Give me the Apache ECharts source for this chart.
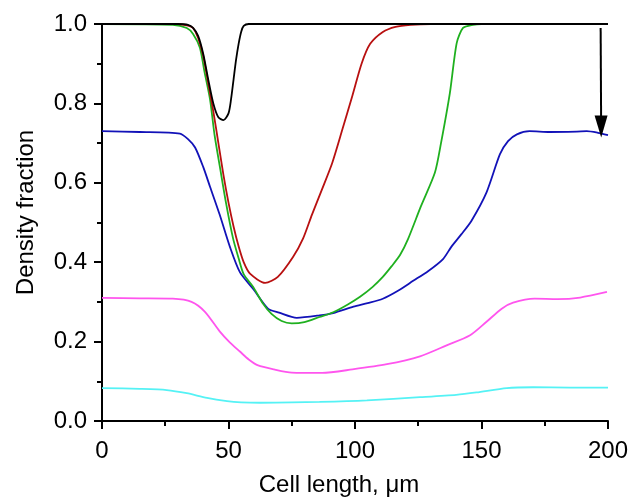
<!DOCTYPE html>
<html>
<head>
<meta charset="utf-8">
<script src="https://cdn.jsdelivr.net/npm/echarts@6/dist/echarts.min.js"></script>
<style>html,body{margin:0;padding:0;background:#fff}#c{width:631px;height:502px}</style>
</head>
<body>
<div id="c"></div>
<script>
const xTicks = [0, 50, 100, 150, 200];
const yTicks = [0.0, 0.2, 0.4, 0.6, 0.8, 1.0];

const blackData = [[0,1.0],[30,1.0],[34,0.998],[36,0.99],[38,0.97],[40,0.925],[42,0.86],[44,0.80],[46,0.765],[48,0.758],[50,0.775],[51,0.81],[52,0.86],[53,0.91],[54,0.95],[55,0.98],[56,0.995],[58,1.0],[200,1.0]];
const redData = [[0,1.0],[30,1.0],[34,0.996],[36,0.99],[38,0.965],[40,0.92],[42,0.85],[44,0.78],[46,0.70],[48,0.62],[50,0.55],[52,0.49],[54,0.44],[56,0.40],[58.5,0.371],[64.5,0.348],[69.5,0.363],[75.5,0.413],[79.5,0.46],[83,0.52],[87,0.584],[91,0.65],[95,0.734],[99,0.82],[102.6,0.90],[106,0.95],[111,0.98],[116,0.993],[122,0.998],[130,1.0],[200,1.0]];
const greenData = [[0,1.0],[28,0.998],[33.5,0.99],[36,0.975],[38.7,0.94],[40.5,0.88],[42.7,0.81],[44.5,0.72],[46.6,0.64],[49,0.55],[51.8,0.46],[54,0.41],[56,0.37],[59.7,0.338],[63.6,0.296],[67,0.27],[71,0.252],[75,0.246],[80,0.249],[86,0.262],[91.4,0.274],[97,0.293],[102,0.313],[107,0.338],[111,0.363],[114.5,0.39],[117.8,0.418],[121,0.459],[126,0.54],[131.6,0.626],[134,0.70],[137.5,0.826],[140.2,0.952],[142.7,0.99],[146.6,0.998],[150,1.0],[200,1.0]];
const blueData = [[0,0.73],[15,0.728],[30.8,0.724],[34,0.71],[36.8,0.689],[40,0.64],[42.7,0.59],[46.5,0.52],[50.6,0.438],[54.5,0.375],[59.7,0.333],[65.6,0.283],[70,0.273],[77,0.26],[86,0.266],[91.4,0.272],[99.4,0.288],[105,0.297],[111,0.308],[117,0.328],[123,0.353],[129,0.378],[134.8,0.408],[138,0.438],[142,0.47],[146,0.504],[152,0.576],[157.3,0.672],[160.5,0.705],[164,0.722],[169,0.73],[177,0.728],[187.7,0.729],[191.6,0.730],[196,0.726],[200,0.72]];
const pinkData = [[0,0.31],[15,0.309],[28,0.308],[35.4,0.30],[40.7,0.275],[46.6,0.225],[50.5,0.198],[54.5,0.175],[58,0.155],[61.7,0.14],[68,0.13],[75,0.122],[87,0.121],[99,0.13],[112.6,0.143],[125.7,0.163],[136,0.19],[145.5,0.216],[152,0.25],[158,0.283],[162.5,0.298],[171,0.308],[180,0.307],[189,0.311],[199.6,0.325]];
const cyanData = [[0,0.083],[15,0.081],[25.6,0.078],[33.5,0.07],[41.5,0.058],[49.4,0.05],[55,0.047],[62.5,0.046],[75,0.047],[86,0.048],[104.7,0.052],[125.7,0.06],[140,0.066],[148,0.072],[160,0.083],[170.4,0.085],[185,0.084],[200,0.084]];
const arrowStart = [197.1, 0.99];
const arrowEnd = [197.3, 0.742];

const seriesDefs = [
  {name: 'cyan', data: cyanData, color: '#55f2f5'},
  {name: 'pink', data: pinkData, color: '#ff55ee'},
  {name: 'blue', data: blueData, color: '#1212b8'},
  {name: 'green', data: greenData, color: '#1fb01f'},
  {name: 'red', data: redData, color: '#b81010'},
  {name: 'black', data: blackData, color: '#000000'}
];

const font = '"Liberation Sans", Arial, sans-serif';
const chart = echarts.init(document.getElementById('c'), null, {renderer: 'canvas'});
const series = seriesDefs.map(s => ({
  type: 'line', name: s.name, data: s.data, showSymbol: false, smooth: 0.25,
  lineStyle: {color: s.color, width: 1.8}, itemStyle: {color: s.color}, z: 3, animation: false
}));
series.push({
  type: 'line', data: [], silent: true, animation: false,
  markLine: {
    silent: true, animation: false,
    symbol: ['none', 'triangle'], symbolSize: [13, 22],
    lineStyle: {color: '#000', width: 2, type: 'solid'},
    label: {show: false},
    data: [[{coord: arrowStart}, {coord: arrowEnd}]]
  }
});

chart.setOption({
  animation: false,
  backgroundColor: '#fff',
  grid: {left: 102, right: 23, top: 24, bottom: 79, containLabel: false},
  xAxis: {
    type: 'value', min: 0, max: 200, interval: 50,
    name: 'Cell length, μm', nameLocation: 'middle', nameGap: 52,
    nameTextStyle: {fontFamily: font, fontSize: 24, color: '#000', padding: [0, 32, 0, 0]},
    axisLine: {onZero: false, lineStyle: {color: '#000', width: 2}},
    axisTick: {show: true, inside: false, length: 8, lineStyle: {color: '#000', width: 2}},
    minorTick: {show: true, splitNumber: 2, length: 5, lineStyle: {color: '#000', width: 2}},
    axisLabel: {fontFamily: font, fontSize: 24, color: '#000', margin: 18,
      formatter: v => xTicks.includes(v) ? String(v) : ''},
    splitLine: {show: false}
  },
  yAxis: {
    type: 'value', min: 0, max: 1, interval: 0.2,
    name: 'Density fraction', nameLocation: 'middle', nameGap: 64, nameRotate: 90,
    nameTextStyle: {fontFamily: font, fontSize: 24, color: '#000', padding: [0, 0, 0, 20]},
    axisLine: {show: true, onZero: false, lineStyle: {color: '#000', width: 2}},
    axisTick: {show: true, inside: false, length: 8, lineStyle: {color: '#000', width: 2}},
    minorTick: {show: true, splitNumber: 2, length: 5, lineStyle: {color: '#000', width: 2}},
    axisLabel: {fontFamily: font, fontSize: 24, color: '#000', margin: 15,
      formatter: v => { const t = yTicks.find(y => Math.abs(y - v) < 1e-9); return t === undefined ? '' : t.toFixed(1); }},
    splitLine: {show: false}
  },
  series: series
});
</script>
</body>
</html>
